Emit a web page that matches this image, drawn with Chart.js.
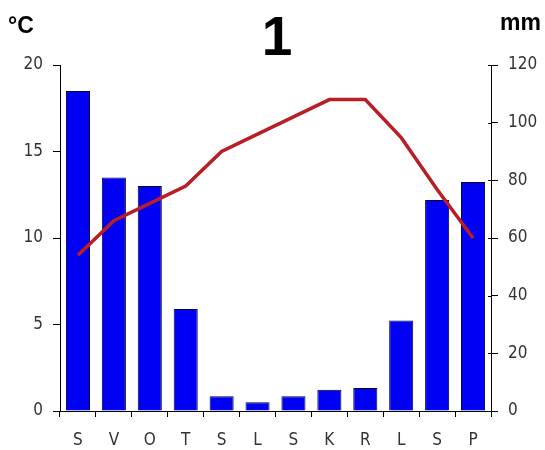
<!DOCTYPE html>
<html>
<head>
<meta charset="utf-8">
<script src="https://cdn.jsdelivr.net/npm/chart.js@4/dist/chart.umd.min.js"></script>
<style>
  html, body { margin: 0; padding: 0; background: #fff; }
  #wrap { width: 545px; height: 450px; }
</style>
</head>
<body>
<div id="wrap"><canvas id="c" width="545" height="450"></canvas></div>
<script>
// ── Data ──────────────────────────────────────────────────────────────────
const months        = ['S', 'V', 'O', 'T', 'S', 'L', 'S', 'K', 'R', 'L', 'S', 'P'];
const precipitation = [111, 81, 78, 35.4, 5.1, 3.0, 5.1, 7.4, 8.0, 31.4, 73.2, 79.4];   // mm
const temperature   = [9, 11, 12, 13, 15, 16, 17, 18, 18, 15.8, 12.8, 10];             // °C
const tempTicks     = [0, 5, 10, 15, 20];
const rainTicks     = [0, 20, 40, 60, 80, 100, 120];

// narrow sans for tick labels (weight slot carries the font-stretch keyword)
const TICK_FONT  = { family: "'DejaVu Sans', sans-serif", size: 17, weight: 'condensed' };
const TICK_COLOR = '#333';

// headings drawn on top of the canvas
const headings = {
    id: 'headings',
    afterDraw(chart) {
        const ctx = chart.ctx;
        ctx.save();
        ctx.fillStyle = '#000';
        ctx.textBaseline = 'alphabetic';
        ctx.font = "bold 55px 'Liberation Sans', Arial, sans-serif";
        ctx.textAlign = 'center';
        ctx.fillText('1', 277, 55);
        ctx.font = "bold 23px 'Liberation Sans', Arial, sans-serif";
        ctx.textAlign = 'left';
        ctx.fillText('°C', 8, 33);
        ctx.fillText('mm', 500, 30);
        // right axis ticks cross the axis line
        const y1 = chart.scales.y1;
        ctx.strokeStyle = '#000';
        ctx.lineWidth = 1;
        ctx.beginPath();
        y1.ticks.forEach(t => {
            const py = Math.round(y1.getPixelForValue(t.value)) + 0.5;
            ctx.moveTo(y1.left - 3, py);
            ctx.lineTo(y1.left, py);
        });
        ctx.stroke();
        ctx.restore();
    }
};

new Chart(document.getElementById('c'), {
    data: {
        labels: months,
        datasets: [
            {
                type: 'line',
                label: '°C',
                data: temperature,
                yAxisID: 'y',
                borderColor: '#b81e26',
                borderWidth: 3.5,
                pointRadius: 0,
                tension: 0,
                fill: false,
                order: 0
            },
            {
                type: 'bar',
                label: 'mm',
                data: precipitation,
                yAxisID: 'y1',
                backgroundColor: '#0000f4',
                borderColor: '#00003a',
                borderWidth: 1,
                barPercentage: 0.67,
                categoryPercentage: 1,
                order: 1
            }
        ]
    },
    options: {
        responsive: false,
        animation: false,
        layout: { padding: { top: 65, left: 0, right: 0, bottom: 0 } },
        plugins: { legend: { display: false }, tooltip: { enabled: false } },
        scales: {
            x: {
                offset: true,
                grid: { display: true, drawOnChartArea: false, offset: true, tickLength: 6, color: '#000' },
                border: { color: '#000', width: 1 },
                ticks: { font: TICK_FONT, color: TICK_COLOR, padding: 13, maxRotation: 0 },
                afterFit: s => { s.height = 39; }
            },
            y: {
                position: 'left',
                min: 0, max: 20,
                afterBuildTicks: s => { s.ticks = tempTicks.map(v => ({ value: v })); },
                grid: { display: true, drawOnChartArea: false, tickLength: 7, color: '#000' },
                border: { color: '#000', width: 1 },
                ticks: { font: TICK_FONT, color: TICK_COLOR, padding: 10 },
                afterFit: s => { s.width = 60; }
            },
            y1: {
                position: 'right',
                min: 0, max: 120,
                afterBuildTicks: s => { s.ticks = rainTicks.map(v => ({ value: v })); },
                grid: { display: true, drawOnChartArea: false, tickLength: 7, color: '#000' },
                border: { color: '#000', width: 1 },
                ticks: { font: TICK_FONT, color: TICK_COLOR, padding: 10 },
                afterFit: s => { s.width = 54; }
            }
        }
    },
    plugins: [headings]
});
</script>
</body>
</html>
